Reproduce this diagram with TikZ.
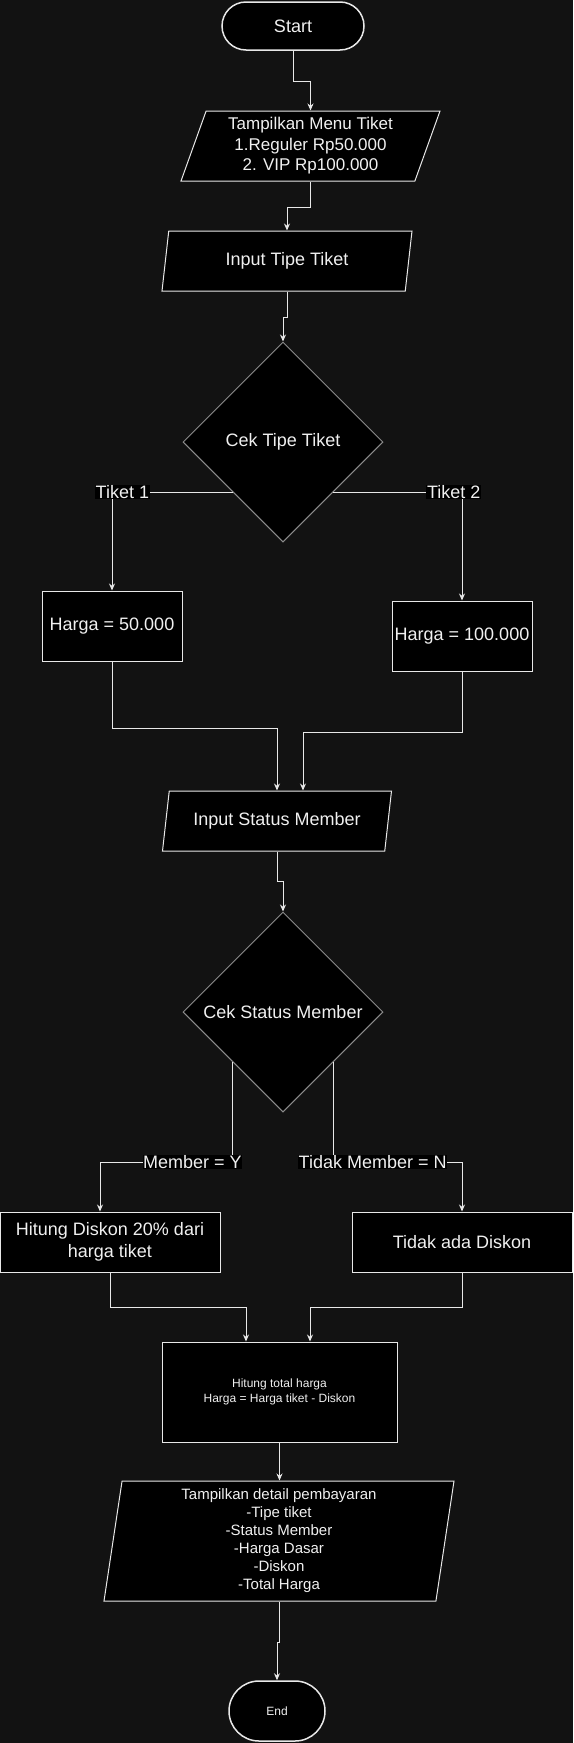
\documentclass[tikz,border=0pt]{standalone}
\usepackage{fontspec}
\setmainfont{Liberation Sans}
\usetikzlibrary{arrows.meta, positioning, shapes.geometric, shapes.misc, calc}
\definecolor{bgdark}{RGB}{18,18,18}
\definecolor{linegray}{RGB}{232,232,232}
\definecolor{diagray}{RGB}{140,140,140}
\definecolor{txtwhite}{RGB}{240,240,240}

\begin{document}
\begin{tikzpicture}[x=1pt, y=-1pt,
    base/.style={fill=black, draw=linegray, line width=1pt, text=txtwhite, align=center, inner sep=2pt, font=\fontsize{18}{21.6}\selectfont},
    term/.style={base, rounded rectangle, line width=1.5pt},
    proc/.style={base, rectangle},
    io/.style 2 args={base, trapezium, trapezium left angle=#1, trapezium right angle=#2, trapezium stretches body},
    decide/.style={base, diamond, draw=diagray, inner sep=0pt, minimum width=200pt, minimum height=200pt},
    lbl/.style={fill=black, text=txtwhite, inner sep=0.6pt, font=\fontsize{18}{21.6}\selectfont},
    flow/.style={draw=linegray, line width=1pt, -{Stealth[length=7pt, width=6pt]}}]
    \fill[bgdark] (0,0) rectangle (573,1743);
    \useasboundingbox (0,0) rectangle (573,1743);

    % Start and menu
    \node[term, minimum width=146pt, minimum height=48pt] (start) at (293,26) {Start};
    \node[io={67.5}{112.5}, minimum width=259pt, minimum height=70pt, font=\fontsize{17}{20.4}\selectfont] (menu) at (310.5,146) {Tampilkan Menu Tiket\\1.Reguler Rp50.000\\2. VIP Rp100.000};
    \node[io={72}{108}, minimum width=250pt, minimum height=60pt] (tipe) at (287,261) {Input Tipe Tiket};

    % Ticket type decision
    \node[decide] (cektipe) at (283,442) {Cek Tipe Tiket};
    \node[proc, minimum width=140pt, minimum height=70pt] (reguler) at (112,626) {Harga = 50.000};
    \node[proc, minimum width=140pt, minimum height=70pt] (vip) at (462,636) {Harga = 100.000};

    % Member decision
    \node[io={72}{108}, minimum width=229pt, minimum height=60pt] (status) at (277,821) {Input Status Member};
    \node[decide] (cekmember) at (283,1012) {Cek Status Member};
    \node[proc, minimum width=220pt, minimum height=60pt] (diskon) at (110,1242) {Hitung Diskon 20\% dari\\harga tiket};
    \node[proc, minimum width=220pt, minimum height=60pt] (nodiskon) at (462,1242) {Tidak ada Diskon};

    % Total and output
    \node[proc, minimum width=235pt, minimum height=100pt, font=\fontsize{12}{14.4}\selectfont] (total) at (279.5,1392) {Hitung total harga\\Harga = Harga tiket - Diskon};
    \node[io={80.5}{99.5}, minimum width=350pt, minimum height=120pt, font=\fontsize{15}{18}\selectfont] (detail) at (279,1541) {Tampilkan detail pembayaran\\-Tipe tiket\\-Status Member\\-Harga Dasar\\-Diskon\\-Total Harga};
    \node[term, minimum width=100pt, minimum height=60pt, font=\fontsize{12}{14.4}\selectfont] (end) at (277,1711) {End};

    % Connectors
    \draw[flow] (start.south) -- ++(0,31) -| (menu.center |- menu.north);
    \draw[flow] (menu.center |- menu.south) -- ++(0,25.7) -| (tipe.center |- tipe.north);
    \draw[flow] (tipe.center |- tipe.south) -- ++(0,26) -| (cektipe.north);
    \draw[flow] ($(cektipe.west)!0.5!(cektipe.south)$) -| (reguler.north) node[lbl, pos=0.457] {Tiket 1};
    \draw[flow] ($(cektipe.east)!0.5!(cektipe.south)$) -| (vip.north) node[lbl, pos=0.468] {Tiket 2};
    \draw[flow] (reguler.south) -- ++(0,67) -| (status.center |- status.north);
    \draw[flow] (vip.south) -- ++(0,61) -| ($(status.center |- status.north)+(26,0)$);
    \draw[flow] (status.center |- status.south) -- ++(0,30) -| (cekmember.north);
    \draw[flow] ($(cekmember.west)!0.5!(cekmember.south)$) -- ++(0,100) -| ($(diskon.north)+(-10,0)$) node[lbl, pos=0.152] {Member = Y};
    \draw[flow] ($(cekmember.east)!0.5!(cekmember.south)$) -- ++(0,100) -| (nodiskon.north) node[lbl, pos=0.153] {Tidak Member = N};
    \draw[flow] (diskon.south) -- ++(0,35) -| ($(total.north)+(-33.5,0)$);
    \draw[flow] (nodiskon.south) -- ++(0,35) -| ($(total.north)+(30.5,0)$);
    \draw[flow] (total.south) -- (total.south |- detail.north);
    \draw[flow] (detail.center |- detail.south) -- ++(0,41) -| (end.north);
\end{tikzpicture}
\end{document}
